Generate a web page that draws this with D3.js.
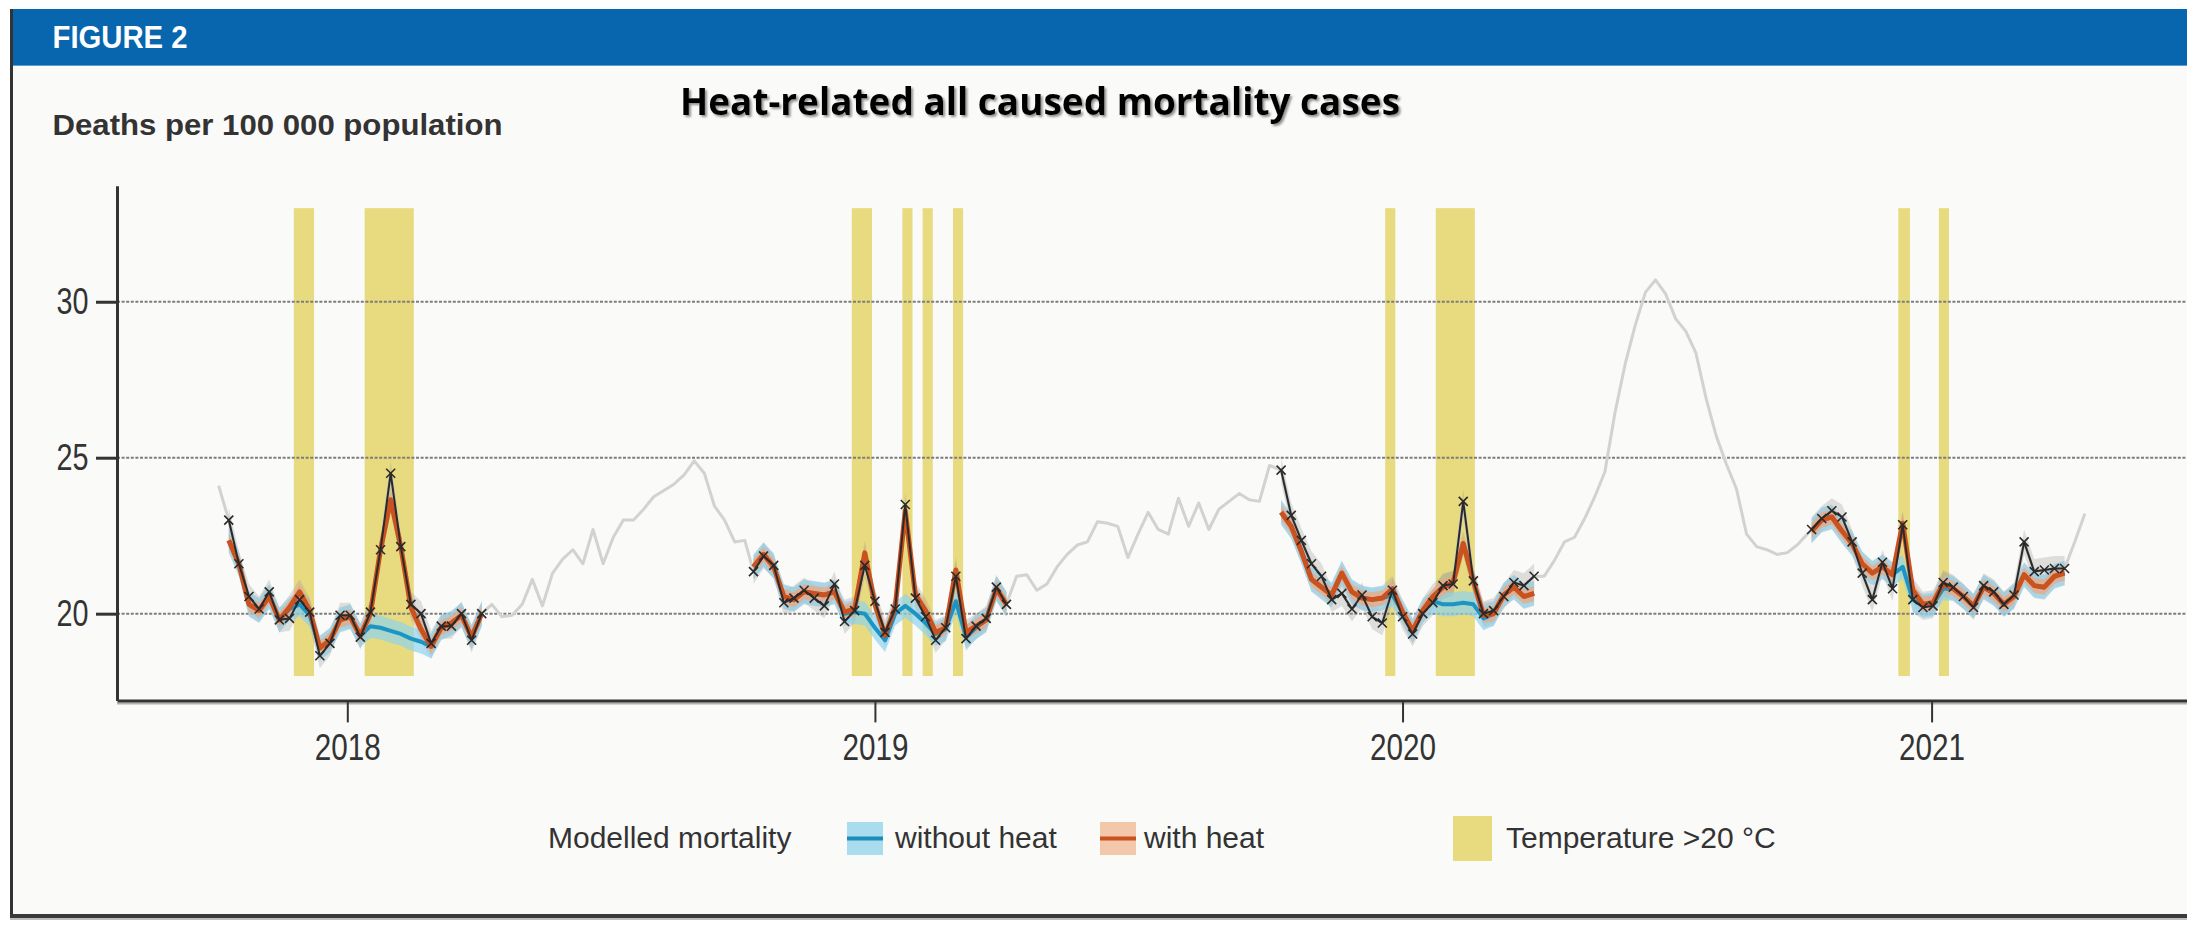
<!DOCTYPE html>
<html lang="en">
<head>
<meta charset="UTF-8">
<title>Heat-related all caused mortality cases</title>
<script src="https://cdn.jsdelivr.net/npm/d3@7"></script>
<style>
    body { margin: 0; background: #fff; }
    svg { display: block; }
</style>
</head>
<body>
<div id="chart"></div>
<script>
    // Weekly deaths per 100 000 population
    // Modelled seasons run from October to April, one array per season
    const seasonStart = ["2017-10-11", "2018-10-09", "2019-10-09", "2020-10-10"];

    const observed1718 = [23.0, 21.6, 20.55, 20.15, 20.7, 19.8, 19.85, 20.45, 20.05, 18.65, 19.05, 19.95, 19.95,
        19.25, 20.05, 22.05, 24.5, 22.15, 20.3, 20.0, 19.05, 19.6, 19.6, 20.0, 19.15, 20.0];
    const withHeat1718 = [22.35, 21.6, 20.3, 20.1, 20.55, 19.8, 20.2, 20.7, 20.1, 18.9, 19.15, 19.8, 19.9,
        19.3, 20.0, 22.05, 23.65, 22.15, 20.2, 19.5, 18.95, 19.55, 19.7, 19.95, 19.25, 20.0];
    const withoutHeat1718 = [22.35, 21.6, 20.3, 20.1, 20.55, 19.8, 20.15, 20.3, 19.95, 18.9, 19.15, 19.8, 19.9,
        19.3, 19.6, 19.55, 19.45, 19.35, 19.2, 19.1, 18.95, 19.55, 19.7, 19.95, 19.25, 20.0];

    const observed1819 = [21.35, 21.85, 21.55, 20.35, 20.5, 20.75, 20.5, 20.25, 20.95, 19.75, 20.1, 21.55, 20.4,
        19.4, 20.15, 23.5, 20.5, 19.9, 19.15, 19.55, 21.2, 19.2, 19.6, 19.85, 20.85, 20.3];
    const withHeat1819 = [21.5, 21.9, 21.5, 20.55, 20.45, 20.7, 20.65, 20.6, 20.7, 20.05, 20.15, 21.95, 20.3,
        19.3, 20.2, 23.3, 20.6, 20.1, 19.4, 19.55, 21.4, 19.4, 19.6, 19.8, 20.8, 20.3];
    const withoutHeat1819 = [21.5, 21.9, 21.5, 20.55, 20.45, 20.7, 20.65, 20.6, 20.7, 20.0, 20.05, 20.0, 19.55,
        19.15, 20.0, 20.25, 20.0, 19.7, 19.35, 19.5, 20.4, 19.25, 19.55, 19.8, 20.8, 20.3];

    const observed1920 = [24.6, 23.15, 22.35, 21.6, 21.2, 20.45, 20.65, 20.15, 20.6, 19.9, 19.7, 20.75, 19.9,
        19.35, 20.0, 20.35, 20.9, 20.95, 23.6, 21.05, 20.0, 20.1, 20.55, 21.0, 20.9, 21.2];
    const withHeat1920 = [23.25, 22.8, 22.0, 21.1, 20.85, 20.6, 21.3, 20.7, 20.5, 20.45, 20.5, 20.8, 20.05,
        19.45, 20.1, 20.55, 20.85, 21.0, 22.25, 21.05, 19.95, 20.0, 20.6, 20.85, 20.55, 20.65];
    const withoutHeat1920 = [23.25, 22.8, 22.0, 21.1, 20.85, 20.6, 21.3, 20.7, 20.5, 20.45, 20.5, 20.6, 20.05,
        19.45, 20.1, 20.4, 20.3, 20.3, 20.35, 20.3, 19.85, 20.0, 20.6, 20.85, 20.55, 20.65];

    const observed2021 = [22.7, 23.05, 23.3, 23.1, 22.3, 21.3, 20.45, 21.65, 20.8, 22.85, 20.45, 20.2, 20.25,
        21.0, 20.85, 20.55, 20.2, 20.9, 20.7, 20.3, 20.6, 22.3, 21.35, 21.4, 21.45, 21.45];
    const withHeat2021 = [22.65, 23.0, 23.1, 22.65, 22.25, 21.6, 21.3, 21.5, 21.25, 22.9, 20.75, 20.3, 20.35,
        20.95, 20.8, 20.55, 20.25, 20.85, 20.65, 20.3, 20.55, 21.25, 20.9, 20.85, 21.2, 21.3];
    const withoutHeat2021 = [22.65, 23.0, 23.1, 22.65, 22.25, 21.6, 21.3, 21.5, 21.25, 21.5, 20.45, 20.25, 20.3,
        20.8, 20.8, 20.55, 20.25, 20.85, 20.65, 20.3, 20.55, 21.25, 20.9, 20.85, 21.2, 21.3];

    // Observed weeks outside the modelled seasons (grey line)
    const offSeasonStart = ["2017-10-04", "2018-04-11", "2019-04-09", "2020-04-08", "2021-04-10"];
    const offPre = [24.1];
    const off2018 = [20.3, 19.9, 19.95, 20.3, 21.1, 20.25, 21.3, 21.75, 22.05, 21.6, 22.7, 21.6, 22.45,
        23.0, 23.0, 23.35, 23.75, 23.95, 24.15, 24.45, 24.9, 24.5, 23.45, 23.0, 22.3, 22.35];
    const off2019 = [21.2, 21.25, 20.75, 20.95, 21.5, 21.9, 22.2, 22.3, 22.95, 22.9, 22.8, 21.8, 22.55,
        23.25, 22.7, 22.55, 23.7, 22.8, 23.55, 22.7, 23.35, 23.6, 23.85, 23.65, 23.6, 24.75];
    const off2020 = [21.2, 21.7, 22.3, 22.45, 23.05, 23.75, 24.55, 26.45, 28.0, 29.25, 30.3, 30.7, 30.25,
        29.45, 29.05, 28.35, 26.9, 25.7, 24.8, 24.0, 22.55, 22.15, 22.05, 21.9, 21.95, 22.2, 22.55];
    const offPost = [22.3, 23.2];

    // Periods with temperature > 20 °C
    const heatStart = ["2017-11-25", "2018-01-13", "2018-12-16", "2019-01-20", "2019-02-03", "2019-02-24",
        "2019-12-20", "2020-01-24", "2020-12-09", "2021-01-06"];
    const heatEnd = ["2017-12-09", "2018-02-16", "2018-12-30", "2019-01-27", "2019-02-10", "2019-03-03",
        "2019-12-27", "2020-02-20", "2020-12-17", "2021-01-13"];

    const yearTicks = [2018, 2019, 2020, 2021];
    const yTicks = [20, 25, 30];

    const W = 2187, H = 932;
    const parse = d3.timeParse("%Y-%m-%d");

    // turn a start date and weekly values into points
    function weekly(start, values) {
        const d0 = parse(start);
        return values.map((v, i) => ({ date: d3.timeDay.offset(d0, 7 * i), v: v }));
    }

    const seasons = [
        [observed1718, withHeat1718, withoutHeat1718],
        [observed1819, withHeat1819, withoutHeat1819],
        [observed1920, withHeat1920, withoutHeat1920],
        [observed2021, withHeat2021, withoutHeat2021]
    ].map((s, i) => ({
        obs: weekly(seasonStart[i], s[0]),
        heat: weekly(seasonStart[i], s[1]),
        noHeat: weekly(seasonStart[i], s[2])
    }));

    const offSeason = [offPre, off2018, off2019, off2020, offPost].map((a, i) => weekly(offSeasonStart[i], a));
    const allObserved = offSeason.concat(seasons.map(s => s.obs)).flat()
        .sort((a, b) => a.date - b.date);

    const svg = d3.select("#chart")
        .append("svg")
        .attr("width", W)
        .attr("height", H);

    const defs = svg.append("defs");
    defs.append("filter").attr("id", "shadow")
        .attr("x", "-5%").attr("y", "-30%").attr("width", "110%").attr("height", "160%")
        .append("feDropShadow")
        .attr("dx", 2).attr("dy", 2).attr("stdDeviation", 1.2)
        .attr("flood-color", "#777").attr("flood-opacity", 0.8);

    // Panel frame
    svg.append("rect").attr("x", 10).attr("y", 9).attr("width", W - 10).attr("height", 907)
        .attr("fill", "#fafaf8");
    svg.append("rect").attr("x", 10).attr("y", 9).attr("width", W - 10).attr("height", 56)
        .attr("fill", "#0766ad");
    svg.append("line").attr("x1", 10).attr("x2", W).attr("y1", 65.5).attr("y2", 65.5)
        .attr("stroke", "#5b9fd0").attr("stroke-width", 1);
    svg.append("line").attr("x1", 11.5).attr("x2", 11.5).attr("y1", 9).attr("y2", 918)
        .attr("stroke", "#333").attr("stroke-width", 3);
    svg.append("line").attr("x1", 10).attr("x2", W).attr("y1", 916).attr("y2", 916)
        .attr("stroke", "#3a3a3a").attr("stroke-width", 4);
    svg.append("line").attr("x1", 10).attr("x2", W).attr("y1", 919).attr("y2", 919)
        .attr("stroke", "#bdbdbd").attr("stroke-width", 2);

    svg.append("text").attr("x", 52.5).attr("y", 48)
        .attr("font-family", "Liberation Sans Narrow, Liberation Sans, Arial, sans-serif").attr("font-weight", "bold")
        .attr("font-size", 32).attr("fill", "#fff")
        .attr("textLength", 135).attr("lengthAdjust", "spacingAndGlyphs")
        .text("FIGURE 2");

    svg.append("text").attr("x", 52.5).attr("y", 135)
        .attr("font-family", "Liberation Sans, Arial, sans-serif").attr("font-weight", "bold")
        .attr("font-size", 30).attr("fill", "#333")
        .attr("textLength", 450).attr("lengthAdjust", "spacingAndGlyphs")
        .text("Deaths per 100 000 population");

    svg.append("text").attr("x", 680).attr("y", 115)
        .attr("font-family", "Liberation Sans Narrow, Open Sans, sans-serif").attr("font-weight", "bold")
        .attr("font-size", 38).attr("fill", "#000")
        .attr("textLength", 720).attr("lengthAdjust", "spacingAndGlyphs")
        .attr("filter", "url(#shadow)")
        .text("Heat-related all caused mortality cases");

    // Scales: years sit at fixed pixel positions, the axis runs to the right edge
    const x0 = d3.scaleTime()
        .domain([new Date(2018, 0, 1), new Date(2021, 0, 1)])
        .range([347.3, 1931.6]);
    const x = d3.scaleTime()
        .domain([x0.invert(117), x0.invert(W)])
        .range([117, W]);
    const y = d3.scaleLinear()
        .domain([17.22, 33.72])
        .range([700.4, 185.7]);

    // Temperature > 20 °C bands
    svg.append("g").selectAll("rect")
        .data(heatStart.map((s, i) => ({ s: parse(s), e: parse(heatEnd[i]) })))
        .enter().append("rect")
        .attr("x", d => x(d.s))
        .attr("width", d => x(d.e) - x(d.s))
        .attr("y", y(33))
        .attr("height", y(18) - y(33))
        .attr("fill", "#e8da7e");

    // Dotted grid
    svg.append("g").selectAll("line")
        .data(yTicks)
        .enter().append("line")
        .attr("x1", 117).attr("x2", W)
        .attr("y1", d => y(d)).attr("y2", d => y(d))
        .attr("stroke", "#7d7d7d").attr("stroke-width", 2)
        .attr("stroke-dasharray", "3,1.6");

    const line = d3.line().x(d => x(d.date)).y(d => y(d.v));
    const band = w => d3.area().x(d => x(d.date)).y0(d => y(d.v - w)).y1(d => y(d.v + w));

    // Observed, whole period
    svg.append("path").datum(allObserved)
        .attr("d", line).attr("fill", "none")
        .attr("stroke", "#d2d2d2").attr("stroke-width", 3).attr("stroke-linejoin", "round");

    const model = svg.append("g");
    seasons.forEach(s => {
        model.append("path").datum(s.obs).attr("d", band(0.4))
            .attr("fill", "#9a9a9a").attr("opacity", 0.3);
        model.append("path").datum(s.heat).attr("d", band(0.4))
            .attr("fill", "#9a9a9a").attr("opacity", 0.3);
        model.append("path").datum(s.noHeat).attr("d", band(0.38))
            .attr("fill", "#8fd3ec").attr("opacity", 0.7);
        model.append("path").datum(s.heat).attr("d", band(0.24))
            .attr("fill", "#eea57f").attr("opacity", 0.75);
        model.append("path").datum(s.noHeat).attr("d", line).attr("fill", "none")
            .attr("stroke", "#1b95c4").attr("stroke-width", 4).attr("stroke-linejoin", "round");
        model.append("path").datum(s.heat).attr("d", line).attr("fill", "none")
            .attr("stroke", "#c9521f").attr("stroke-width", 5).attr("stroke-linejoin", "round");
        model.append("path").datum(s.obs).attr("d", line).attr("fill", "none")
            .attr("stroke", "#2a2a2a").attr("stroke-width", 2).attr("stroke-linejoin", "round");
        model.append("g").selectAll("path")
            .data(s.obs)
            .enter().append("path")
            .attr("transform", d => `translate(${x(d.date)},${y(d.v)})`)
            .attr("d", "M-4.5,-4.5L4.5,4.5M-4.5,4.5L4.5,-4.5")
            .attr("stroke", "#2a2a2a").attr("stroke-width", 1.6);
    });

    // Axes
    const tickFont = "Liberation Sans Narrow, Arial Narrow, Liberation Sans, sans-serif";

    const yAxis = svg.append("g")
        .attr("transform", "translate(117,0)")
        .call(d3.axisLeft(y).tickValues(yTicks).tickSize(21).tickPadding(7.5).tickSizeOuter(0));
    yAxis.select(".domain").attr("stroke", "#333").attr("stroke-width", 3);
    yAxis.selectAll(".tick line").attr("stroke", "#333").attr("stroke-width", 3);
    yAxis.selectAll(".tick text")
        .attr("font-family", tickFont).attr("font-size", 36).attr("fill", "#333")
        .attr("textLength", 32).attr("lengthAdjust", "spacingAndGlyphs");

    svg.append("line").attr("x1", 117).attr("x2", W).attr("y1", 703.5).attr("y2", 703.5)
        .attr("stroke", "#b0b0b0").attr("stroke-width", 2);
    const xAxis = svg.append("g")
        .attr("transform", "translate(0,700.4)")
        .call(d3.axisBottom(x)
            .tickValues(yearTicks.map(yr => new Date(yr, 0, 1)))
            .tickFormat(d3.timeFormat("%Y"))
            .tickSize(22).tickPadding(12.5).tickSizeOuter(0));
    xAxis.select(".domain").attr("stroke", "#333").attr("stroke-width", 3);
    xAxis.selectAll(".tick line").attr("stroke", "#333").attr("stroke-width", 2);
    xAxis.selectAll(".tick text")
        .attr("font-family", tickFont).attr("font-size", 36).attr("fill", "#333")
        .attr("textLength", 66).attr("lengthAdjust", "spacingAndGlyphs");

    // Legend
    const legend = svg.append("g")
        .attr("font-family", "Liberation Sans, Arial, sans-serif")
        .attr("font-size", 30).attr("fill", "#333");
    legend.append("text").attr("x", 548).attr("y", 848).text("Modelled mortality");

    const swatches = [
        { x: 847, fill: "#a9dcef", stroke: "#1b8db8", label: "without heat", tx: 895 },
        { x: 1100, fill: "#f3c7aa", stroke: "#c9521f", label: "with heat", tx: 1144 }
    ];
    swatches.forEach(s => {
        legend.append("rect").attr("x", s.x).attr("y", 822).attr("width", 36).attr("height", 33)
            .attr("fill", s.fill);
        legend.append("line").attr("x1", s.x).attr("x2", s.x + 36).attr("y1", 838.5).attr("y2", 838.5)
            .attr("stroke", s.stroke).attr("stroke-width", 4);
        legend.append("text").attr("x", s.tx).attr("y", 848).text(s.label);
    });
    legend.append("rect").attr("x", 1453).attr("y", 816).attr("width", 39).attr("height", 45)
        .attr("fill", "#e8da7e");
    legend.append("text").attr("x", 1506).attr("y", 848).text("Temperature >20 °C");
</script>
</body>
</html>
